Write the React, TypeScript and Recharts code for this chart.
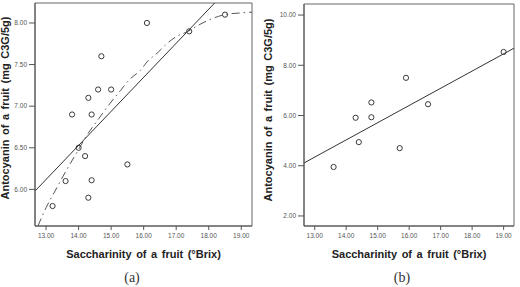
import React from "react";
import {
  ComposedChart,
  Scatter,
  XAxis,
  YAxis,
  ReferenceLine,
  ReferenceArea,
  Label,
} from "recharts";

// shared x axis: saccharinity (°Brix)
const brixTicks = [13, 14, 15, 16, 17, 18, 19];
const brixDomain: [number, number] = [12.66, 19.33];

// (a) observations, smoothed trend and linear fit
const samplesA = [
  { x: 13.2, y: 5.8 },
  { x: 13.6, y: 6.1 },
  { x: 13.8, y: 6.9 },
  { x: 14.0, y: 6.5 },
  { x: 14.2, y: 6.4 },
  { x: 14.3, y: 7.1 },
  { x: 14.3, y: 5.9 },
  { x: 14.4, y: 6.9 },
  { x: 14.4, y: 6.11 },
  { x: 14.6, y: 7.2 },
  { x: 14.7, y: 7.6 },
  { x: 15.0, y: 7.2 },
  { x: 15.5, y: 6.3 },
  { x: 16.1, y: 8.0 },
  { x: 17.4, y: 7.9 },
  { x: 18.5, y: 8.1 },
];
const trendA = [
  { x: 12.75, y: 5.56 },
  { x: 13.0, y: 5.78 },
  { x: 13.22, y: 5.94 },
  { x: 13.61, y: 6.22 },
  { x: 13.97, y: 6.46 },
  { x: 14.22, y: 6.63 },
  { x: 14.62, y: 6.85 },
  { x: 14.88, y: 6.99 },
  { x: 15.29, y: 7.19 },
  { x: 15.59, y: 7.33 },
  { x: 15.9, y: 7.43 },
  { x: 16.1, y: 7.53 },
  { x: 16.45, y: 7.65 },
  { x: 16.71, y: 7.75 },
  { x: 17.02, y: 7.84 },
  { x: 17.37, y: 7.9 },
  { x: 17.62, y: 7.96 },
  { x: 18.03, y: 8.04 },
  { x: 18.49, y: 8.1 },
  { x: 18.95, y: 8.12 },
  { x: 19.33, y: 8.13 },
];
const fitA = [
  { x: 12.66, y: 5.98 },
  { x: 19.33, y: 8.71 },
];
const yTicksA = [6, 6.5, 7, 7.5, 8];
const yDomainA: [number, number] = [5.56, 8.24];

// (b) observations and linear fit
const samplesB = [
  { x: 13.6, y: 3.95 },
  { x: 14.3, y: 5.91 },
  { x: 14.4, y: 4.94 },
  { x: 14.8, y: 6.52 },
  { x: 14.8, y: 5.93 },
  { x: 15.7, y: 4.7 },
  { x: 15.9, y: 7.5 },
  { x: 16.6, y: 6.45 },
  { x: 19.0, y: 8.53 },
];
const fitB = [
  { x: 12.66, y: 4.11 },
  { x: 19.33, y: 8.68 },
];
const yTicksB = [2, 4, 6, 8, 10];
const yDomainB: [number, number] = [1.6, 10.44];

const xTitle = "Saccharinity of a fruit (°Brix)";
const yTitle = "Antocyanin of a fruit (mg C3G/5g)";

const tickStyle = { fontSize: 6.5, fill: "#555", fontFamily: "'Liberation Sans', Arial, sans-serif" };
const titleFont = "'Liberation Sans', Arial, sans-serif";
const axisColor = "#555";

const OpenCircle = (props: any) => (
  <circle cx={props.cx} cy={props.cy} r={2.6} fill="none" stroke="#3a3a3a" strokeWidth={1} />
);
const NoMark = () => <g />;

interface PanelProps {
  left: number;
  top: number;
  yAxisWidth: number;
  rightGap: number;
  samples: { x: number; y: number }[];
  fit: { x: number; y: number }[];
  trend?: { x: number; y: number }[];
  yTicks: number[];
  yDomain: [number, number];
  yTitleX: number;
  yTitleY: number;
  caption: string;
  captionX: number;
}

const W = 260;
const H = 287;
const plotBottom = 226;

function Panel(p: PanelProps) {
  const plotLeft = p.yAxisWidth;
  const plotRight = W - p.rightGap;
  const xCenter = (plotLeft + plotRight) / 2;

  return (
    <div style={{ position: "absolute", left: p.left, top: 0, width: W, height: H }}>
      <ComposedChart
        width={W}
        height={H}
        margin={{ top: p.top, right: p.rightGap, bottom: 0, left: 0 }}
      >
        <XAxis
          type="number"
          dataKey="x"
          domain={brixDomain}
          ticks={brixTicks}
          allowDataOverflow
          height={H - plotBottom}
          tickSize={4}
          tickMargin={3}
          tick={tickStyle}
          tickFormatter={(v: number) => v.toFixed(2)}
          stroke={axisColor}
        >
          <Label
            content={() => (
              <text
                x={xCenter}
                y={258}
                textAnchor="middle"
                fontFamily={titleFont}
                fontWeight="bold"
                fontSize={11}
                wordSpacing={1.5}
                fill="#222"
              >
                {xTitle}
              </text>
            )}
          />
        </XAxis>
        <YAxis
          type="number"
          dataKey="y"
          domain={p.yDomain}
          ticks={p.yTicks}
          allowDataOverflow
          width={p.yAxisWidth}
          tickSize={6}
          tickMargin={2}
          tick={tickStyle}
          tickFormatter={(v: number) => v.toFixed(2)}
          stroke={axisColor}
        >
          <Label
            content={() => (
              <text
                x={p.yTitleX}
                y={p.yTitleY}
                transform={`rotate(-90 ${p.yTitleX} ${p.yTitleY})`}
                textAnchor="middle"
                fontFamily={titleFont}
                fontWeight="bold"
                fontSize={11}
                wordSpacing={1.5}
                fill="#222"
              >
                {yTitle}
              </text>
            )}
          />
        </YAxis>
        <ReferenceArea
          x1={brixDomain[0]}
          x2={brixDomain[1]}
          y1={p.yDomain[0]}
          y2={p.yDomain[1]}
          fill="none"
          stroke="#666"
          strokeWidth={1}
          ifOverflow="visible"
        />
        <ReferenceLine
          segment={p.fit}
          stroke="#333"
          strokeWidth={1}
          ifOverflow="hidden"
        />
        {p.trend && (
          <Scatter
            data={p.trend}
            shape={NoMark}
            line={{ stroke: "#555", strokeWidth: 1, strokeDasharray: "8 4 1.5 4" }}
            lineJointType="monotoneX"
            isAnimationActive={false}
          />
        )}
        <Scatter data={p.samples} shape={OpenCircle} isAnimationActive={false} />
      </ComposedChart>
      <div
        style={{
          position: "absolute",
          left: p.captionX - 20,
          top: 270,
          width: 40,
          textAlign: "center",
          fontFamily: "'Liberation Serif', 'Times New Roman', serif",
          fontSize: 14,
          lineHeight: "16px",
          color: "#333",
        }}
      >
        {p.caption}
      </div>
    </div>
  );
}

export default function App() {
  return (
    <div
      style={{
        position: "absolute",
        left: 0,
        top: 0,
        width: 520,
        height: 287,
        background: "#fff",
        overflow: "hidden",
      }}
    >
      <Panel
        left={0}
        top={3}
        yAxisWidth={35}
        rightGap={8}
        samples={samplesA}
        fit={fitA}
        trend={trendA}
        yTicks={yTicksA}
        yDomain={yDomainA}
        yTitleX={8.5}
        yTitleY={108}
        caption="(a)"
        captionX={132}
      />
      <Panel
        left={260}
        top={4}
        yAxisWidth={44}
        rightGap={6}
        samples={samplesB}
        fit={fitB}
        yTicks={yTicksB}
        yDomain={yDomainB}
        yTitleX={12}
        yTitleY={110}
        caption="(b)"
        captionX={142}
      />
    </div>
  );
}
